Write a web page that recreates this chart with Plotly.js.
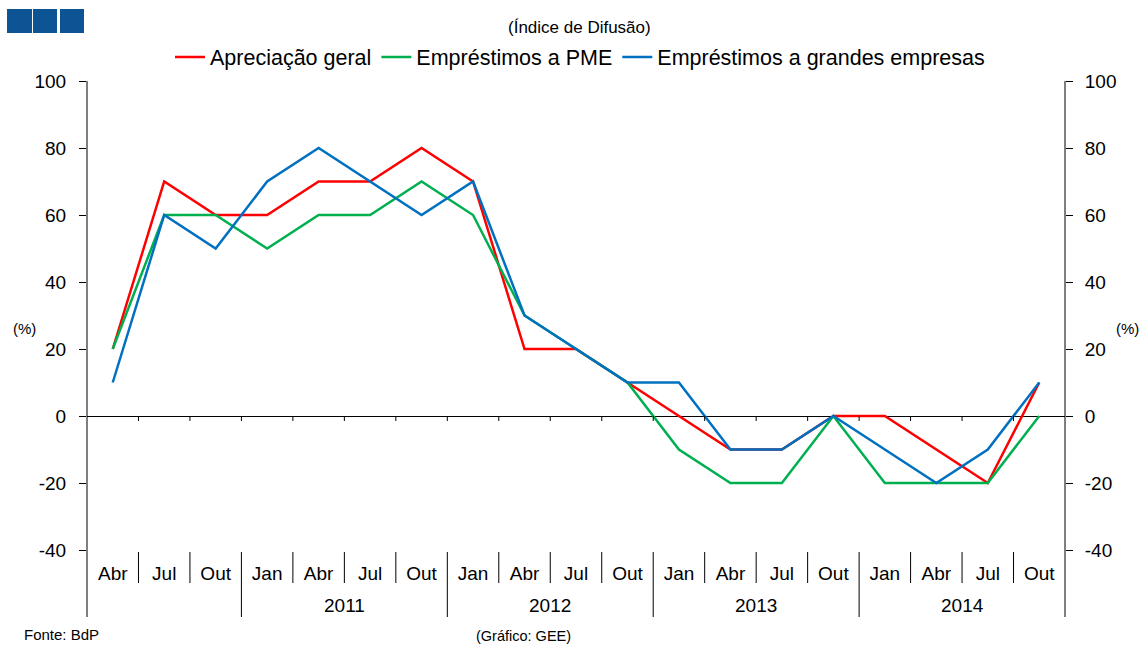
<!DOCTYPE html>
<html>
<head>
<meta charset="utf-8">
<script src="https://cdn.plot.ly/plotly-3.0.1.min.js"></script>
<style>
  html, body { margin: 0; padding: 0; background: #fff; }
  #chart { width: 1142px; height: 647px; }
</style>
</head>
<body>
<div id="chart"></div>
<script>
// ---- data ----
const periods = ['Abr','Jul','Out','Jan','Abr','Jul','Out','Jan','Abr','Jul','Out','Jan','Abr','Jul','Out','Jan','Abr','Jul','Out'];
const years   = [2010,2010,2010,2011,2011,2011,2011,2012,2012,2012,2012,2013,2013,2013,2013,2014,2014,2014,2014];
const yearLabels = {2010: '', 2011: '2011', 2012: '2012', 2013: '2013', 2014: '2014'};

const apreciacaoGeral = [20, 70, 60, 60, 70, 70, 80, 70, 20, 20, 10, 0, -10, -10, 0, 0, -10, -20, 10];
const emprestimosPME  = [20, 60, 60, 50, 60, 60, 70, 60, 30, 20, 10, -10, -20, -20, 0, -20, -20, -20, 0];
const emprestimosGE   = [10, 60, 50, 70, 80, 70, 60, 70, 30, 20, 10, 10, -10, -10, 0, -10, -20, -10, 10];

const seriesNames = ['Apreciação geral', 'Empréstimos a PME', 'Empréstimos a grandes empresas'];
const yTicks = [-40, -20, 0, 20, 40, 60, 80, 100];

// ---- layout helpers ----
const W = 1142, H = 647;
const M = {l: 87, r: 77, t: 81, b: 97};
const PW = W - M.l - M.r, PH = H - M.t - M.b;
const px = x => (x - M.l) / PW;
const py = y => (H - M.b - y) / PH;

const FONT = 'Liberation Sans, Arial, Helvetica, sans-serif';
const idx = periods.map((_, i) => i);

const colors = ['#FF0000', '#00B050', '#0070C0'];
const values = [apreciacaoGeral, emprestimosPME, emprestimosGE];

const traces = values.map((v, k) => ({
  x: idx, y: v, type: 'scatter', mode: 'lines', name: seriesNames[k],
  line: {color: colors[k], width: 2.5}, hoverinfo: 'skip'
}));

const shapes = [];
// axis lines extending below plot
[0, 1].forEach(xp => shapes.push({type: 'line', xref: 'paper', yref: 'paper',
  x0: xp, x1: xp, y0: py(617), y1: 1, line: {color: '#000', width: 1}}));
// category dividers
for (let i = 0; i < periods.length - 1; i++) {
  const yearChange = years[i] !== years[i + 1];
  shapes.push({type: 'line', xref: 'x', yref: 'paper', x0: i + 0.5, x1: i + 0.5,
    y0: yearChange ? py(617) : py(583), y1: py(552), line: {color: '#000', width: 1}});
  // small ticks on zero line
  shapes.push({type: 'line', xref: 'x', yref: 'y', x0: i + 0.5, x1: i + 0.5,
    y0: 0, y1: -1.5, line: {color: '#000', width: 1}});
}
// logo squares
[[7, 32], [33, 57], [60, 84]].forEach(([a, b]) => shapes.push({type: 'rect', xref: 'paper', yref: 'paper',
  x0: px(a), x1: px(b), y0: py(33), y1: py(9), fillcolor: '#0D5494', line: {width: 0}}));

const annotations = [];
// year labels centered on groups
const uniqYears = [...new Set(years)];
uniqYears.forEach(yr => {
  const ids = idx.filter(i => years[i] === yr);
  const c = (ids[0] + ids[ids.length - 1]) / 2;
  if (yearLabels[yr]) annotations.push({x: c, xref: 'x', y: py(605), yref: 'paper',
    text: yearLabels[yr], showarrow: false, font: {family: FONT, size: 19, color: '#000'},
    xanchor: 'center', yanchor: 'middle'});
});
annotations.push(
  {text: '(Índice de Difusão)', x: px(579), y: py(28), xref: 'paper', yref: 'paper', showarrow: false,
   font: {family: FONT, size: 17, color: '#000'}, xanchor: 'center', yanchor: 'middle'},
  {text: '(%)', x: px(24), y: py(328), xref: 'paper', yref: 'paper', showarrow: false,
   font: {family: FONT, size: 15, color: '#000'}, xanchor: 'center', yanchor: 'middle'},
  {text: '(%)', x: px(1127), y: py(328), xref: 'paper', yref: 'paper', showarrow: false,
   font: {family: FONT, size: 15, color: '#000'}, xanchor: 'center', yanchor: 'middle'},
  {text: 'Fonte: BdP', x: px(22), y: py(634), xref: 'paper', yref: 'paper', showarrow: false,
   font: {family: FONT, size: 15, color: '#000'}, xanchor: 'left', yanchor: 'middle'},
  {text: '(Gráfico: GEE)', x: px(523), y: py(636), xref: 'paper', yref: 'paper', showarrow: false,
   font: {family: FONT, size: 14.5, color: '#000'}, xanchor: 'center', yanchor: 'middle'}
);

const yAxisCommon = {
  range: [-40, 100], tickvals: yTicks, ticktext: yTicks.map(String),
  ticks: 'outside', ticklen: 7, tickcolor: '#000', tickwidth: 1,
  showgrid: false, showline: false, zeroline: false,
  tickfont: {family: FONT, size: 19, color: '#000'}, fixedrange: true
};

const layout = {
  width: W, height: H, margin: M,
  paper_bgcolor: '#fff', plot_bgcolor: '#fff',
  font: {family: FONT, color: '#000'},
  showlegend: true,
  legend: {orientation: 'h', x: px(580), xanchor: 'center', y: py(57), yanchor: 'middle',
    font: {family: FONT, size: 21.5, color: '#000'}, bgcolor: 'rgba(0,0,0,0)'},
  xaxis: {range: [-0.5, periods.length - 0.5], tickvals: idx, ticktext: periods,
    showgrid: false, zeroline: false, showline: false, ticks: '',
    ticklabelstandoff: 10, tickangle: 0,
    tickfont: {family: FONT, size: 19, color: '#000'}, fixedrange: true},
  yaxis: Object.assign({}, yAxisCommon, {zeroline: true, zerolinecolor: '#000', zerolinewidth: 1, ticklabelstandoff: 9}),
  yaxis2: Object.assign({}, yAxisCommon, {overlaying: 'y', side: 'right', ticklabelstandoff: 8}),
  shapes: shapes,
  annotations: annotations
};

traces.push({x: [0], y: [0], yaxis: 'y2', type: 'scatter', mode: 'markers',
  marker: {opacity: 0}, showlegend: false, hoverinfo: 'skip'});

Plotly.newPlot('chart', traces, layout, {displayModeBar: false, staticPlot: true});
</script>
</body>
</html>
